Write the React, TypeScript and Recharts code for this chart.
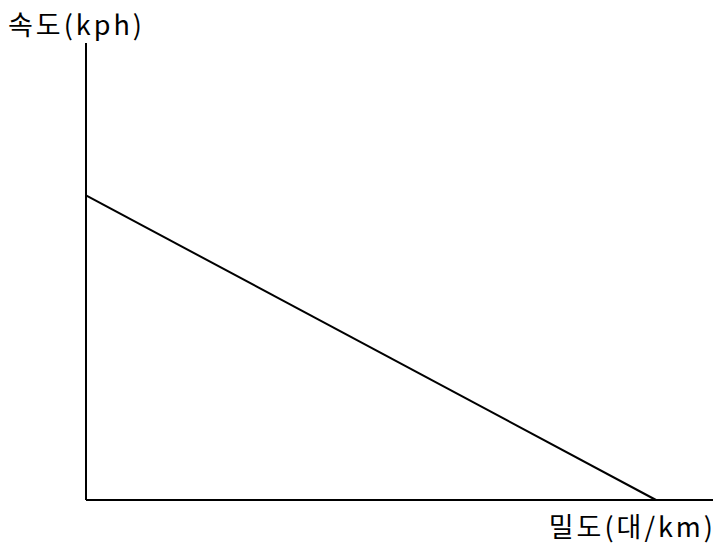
import { LineChart, Line, XAxis, YAxis } from "recharts";

// 밀도(대/km) vs 속도(kph) - linear speed-density relation
const density = [0, 100];
const speed = [100, 0];
const xDomain = [0, 110];
const yDomain = [0, 150];

const data = density.map((d, i) => ({ density: d, speed: speed[i] }));

const labelStyle: React.CSSProperties = {
  position: "absolute",
  fontFamily: "'Noto Sans CJK KR', sans-serif",
  fontSize: 27,
  fontWeight: 400,
  letterSpacing: 3,
  color: "#000",
  lineHeight: 1,
  whiteSpace: "nowrap",
};

export default function App() {
  return (
    <div style={{ position: "absolute", left: 0, top: 0, width: 718, height: 547, background: "#fff" }}>
      <LineChart
        width={718}
        height={547}
        data={data}
        margin={{ top: 43, right: 5, bottom: 46, left: 85 }}
      >
        <XAxis
          type="number"
          dataKey="density"
          domain={xDomain}
          tick={false}
          tickLine={false}
          axisLine={{ stroke: "#000", strokeWidth: 2 }}
          height={1}
        />
        <YAxis
          type="number"
          domain={yDomain}
          tick={false}
          tickLine={false}
          axisLine={{ stroke: "#000", strokeWidth: 2 }}
          width={1}
        />
        <Line
          dataKey="speed"
          stroke="#000"
          strokeWidth={2}
          dot={false}
          isAnimationActive={false}
        />
      </LineChart>
      <div style={{ ...labelStyle, left: 8, top: 10 }}>속도(kph)</div>
      <div style={{ ...labelStyle, right: 2, top: 512 }}>밀도(대/km)</div>
    </div>
  );
}
